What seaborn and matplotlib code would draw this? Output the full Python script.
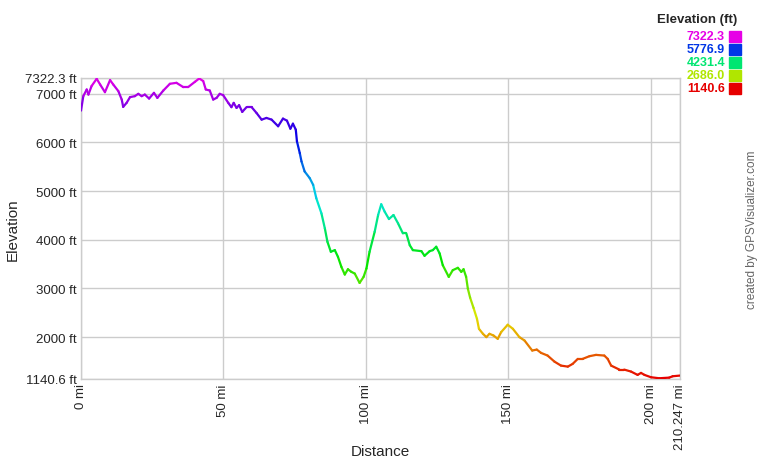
import numpy as np
import pandas as pd
import matplotlib
matplotlib.use("Agg")
import matplotlib.pyplot as plt
import seaborn as sns
from matplotlib.colors import ListedColormap, hsv_to_rgb

# Elevation profile (miles, feet)
distance_mi = [0, 0.8, 2.0, 2.6, 3.7, 5.5, 6.7, 8.4, 10.2, 11.3, 13.1, 14.3, 14.8, 16.0,
               17.2, 18.9, 20.1, 21.3, 22.4, 23.9, 25.6, 26.8, 28.9, 31.2, 33.5, 35.9,
               37.6, 40.0, 41.5, 42.9, 43.8, 45.2, 46.4, 47.6, 48.7, 49.9, 51.7, 52.8,
               53.6, 54.6, 55.5, 56.6, 58.1, 59.9, 61.6, 63.4, 65.1, 66.9, 69.2, 70.9,
               72.3, 73.5, 74.4, 75.4, 75.8, 76.8, 77.4, 78.5, 80.3, 81.5, 82.6, 84.4,
               85.6, 86.5, 87.7, 89.1, 90.2, 91.4, 92.6, 93.7, 94.9, 96.1, 97.8, 99.2,
               100.2, 101.3, 103.1, 104.3, 105.4, 106.6, 108.1, 109.7, 111.3, 113.0,
               114.2, 115.4, 116.5, 119.5, 120.6, 122.4, 123.5, 124.7, 125.9, 127.0,
               129.1, 130.5, 132.3, 133.5, 134.3, 135.2, 135.8, 136.6, 137.8, 139.0,
               139.7, 141.1, 142.3, 143.4, 144.8, 146.3, 147.5, 149.8, 151.6, 153.9,
               155.7, 158.4, 160.0, 161.5, 163.8, 166.2, 168.5, 170.9, 172.6, 174.4,
               176.1, 178.5, 180.8, 183.7, 184.9, 186.1, 189.0, 190.7, 193.1, 195.4,
               196.6, 197.8, 200.1, 203.0, 206.5, 207.7, 210.247]
elevation_ft = [6651, 6948, 7085, 6981, 7155, 7305, 7188, 7030, 7278, 7188, 7052, 6878,
                6728, 6810, 6928, 6948, 6996, 6948, 6981, 6899, 7016, 6913, 7064, 7202,
                7222, 7134, 7134, 7243, 7311, 7258, 7085, 7064, 6878, 6913, 6996, 6969,
                6810, 6722, 6810, 6707, 6763, 6625, 6722, 6722, 6604, 6466, 6501, 6466,
                6330, 6487, 6445, 6280, 6383, 6260, 6021, 5779, 5608, 5402, 5264, 5126,
                4852, 4542, 4233, 3959, 3753, 3786, 3649, 3443, 3285, 3394, 3340, 3305,
                3113, 3237, 3408, 3753, 4165, 4507, 4728, 4577, 4425, 4507, 4336, 4130,
                4130, 3889, 3786, 3765, 3670, 3765, 3786, 3856, 3718, 3477, 3237, 3374,
                3423, 3340, 3394, 3237, 2996, 2810, 2600, 2377, 2171, 2068, 2000, 2068,
                2033, 1965, 2103, 2254, 2171, 2000, 1930, 1724, 1744, 1676, 1621, 1497,
                1415, 1394, 1450, 1553, 1553, 1608, 1635, 1621, 1553, 1415, 1333, 1333,
                1292, 1224, 1265, 1224, 1176, 1155, 1168, 1196, 1210]

elev_min, elev_max = 1140.6, 7322.3
dist_max = 210.247
y_ticks = [1140.6, 2000, 3000, 4000, 5000, 6000, 7000, 7322.3]
y_labels = ["1140.6 ft", "2000 ft", "3000 ft", "4000 ft", "5000 ft", "6000 ft", "7000 ft", "7322.3 ft"]
x_ticks = [0, 50, 100, 150, 200, 210.247]
x_labels = ["0 mi", "50 mi", "100 mi", "150 mi", "200 mi", "210.247 mi"]
legend_values = [7322.3, 5776.9, 4231.4, 2686.0, 1140.6]

# red -> yellow -> green -> blue -> magenta
hues = np.linspace(0, 300 / 360, 256)
cmap = ListedColormap(hsv_to_rgb(np.column_stack([hues, np.ones(256), np.full(256, 0.9)])))

# split the profile into short segments so each one gets its own colour
rows = []
for i in range(len(distance_mi) - 1):
    c = (elevation_ft[i] + elevation_ft[i + 1]) / 2
    rows.append((i, distance_mi[i], elevation_ft[i], c))
    rows.append((i, distance_mi[i + 1], elevation_ft[i + 1], c))
df = pd.DataFrame(rows, columns=["seg", "dist", "elev", "c"])

sns.set_style("white")
plt.rcParams["font.family"] = ["Liberation Sans", "DejaVu Sans"]

fig = plt.figure(figsize=(7.6, 4.6), dpi=100)
ax = fig.add_axes([0.1066, 0.174, 0.788, 0.6544])

sns.lineplot(data=df, x="dist", y="elev", hue="c", units="seg", estimator=None,
             palette=cmap, hue_norm=(elev_min, elev_max), linewidth=1.6,
             legend=False, ax=ax, sort=False, zorder=3)

ax.set_xlim(0, dist_max)
ax.set_ylim(elev_min, elev_max)
ax.set_yticks(y_ticks)
ax.set_yticklabels(y_labels, fontsize=9.5)
ax.set_xticks(x_ticks)
ax.set_xticklabels(x_labels, fontsize=9.5, rotation=90, va="top")
ax.tick_params(length=0, pad=3)
ax.grid(True, color="#cccccc", linewidth=1)
for s in ax.spines.values():
    s.set_color("#cccccc")
    s.set_linewidth(1)

ax.set_xlabel("Distance", fontsize=11)
ax.xaxis.label.set_va("center")
ax.xaxis.set_label_coords(0.5, -(452 - 380) / 301)
ax.set_ylabel("Elevation", fontsize=11)
ax.yaxis.label.set_va("center")
ax.yaxis.set_label_coords(-(81 - 13) / 599, 0.5)

# colour legend at top right
fig.text(737 / 760, 1 - 20 / 460, "Elevation (ft)", ha="right", va="center",
         fontsize=9.5, fontweight="bold")
for k, v in enumerate(legend_values):
    col = cmap((v - elev_min) / (elev_max - elev_min))
    yy = 1 - (37 + k * 13) / 460
    fig.text(725 / 760, yy, f"{v:.1f}", ha="right", va="center", fontsize=9,
             fontweight="bold", color=col)
    fig.patches.append(plt.Rectangle((729 / 760, yy - 5.5 / 460), 12 / 760, 11 / 460,
                                     transform=fig.transFigure, color=col))

fig.text(752 / 760, 1 - 230 / 460, "created by GPSVisualizer.com", rotation=90,
         ha="center", va="center", fontsize=8.5, color="#666666")

fig.savefig("out.png", dpi=100)
